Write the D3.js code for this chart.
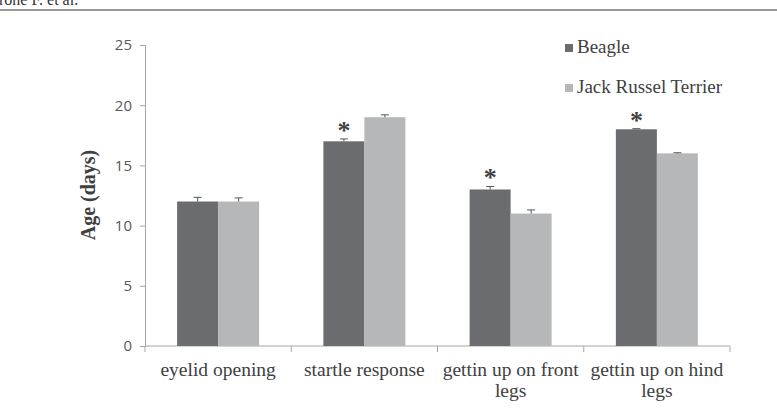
<!DOCTYPE html>
<html><head><meta charset="utf-8">
<script src="https://cdn.jsdelivr.net/npm/d3@7"></script>
<style>body{margin:0;background:#fff}svg{display:block}</style>
</head><body>
<script>
const categories = [["eyelid opening"], ["startle response"], ["gettin up on front", "legs"], ["gettin up on hind", "legs"]];
const seriesNames = ["Beagle", "Jack Russel Terrier"];
const beagle = [12, 17, 13, 18];
const jackRussel = [12, 19, 11, 16];
const beagleErr = [0.35, 0.2, 0.25, 0.05];
const jackErr = [0.3, 0.2, 0.3, 0.05];
const significant = [false, true, true, true];
const yTicks = [0, 5, 10, 15, 20, 25];
const colors = ["#6b6c70", "#b6b7b8"];

const W = 777, H = 412;
const svg = d3.select("body").append("svg").attr("width", W).attr("height", H);

// header fragment
svg.append("text").attr("x", -1).attr("y", 5).attr("font-family", "Liberation Serif").attr("font-size", 16).attr("fill", "#333").text("rone F. et al.");
svg.append("line").attr("x1", 0).attr("x2", W).attr("y1", 10).attr("y2", 10).attr("stroke", "#777").attr("stroke-width", 1.5);

const x0 = 145, x1 = 730, yTop = 45, yBot = 346;
const x = d3.scaleBand().domain(d3.range(categories.length)).range([x0, x1]).paddingInner(0).paddingOuter(0);
const y = d3.scaleLinear().domain([0, 25]).range([yBot, yTop]);
const barW = 41;

// y axis
const yAxis = d3.axisLeft(y).tickValues(yTicks).tickSize(5).tickPadding(8);
const gy = svg.append("g").attr("transform", `translate(${x0},0)`).call(yAxis);
gy.select(".domain").attr("stroke", "#a6a6a6");
gy.selectAll(".tick line").attr("stroke", "#a6a6a6");
gy.selectAll(".tick text").attr("font-family", "Open Sans, Liberation Sans, sans-serif").attr("font-size", 15).attr("fill", "#595959");

// x axis
const gx = svg.append("g").attr("transform", `translate(0,${yBot})`);
gx.append("line").attr("x1", x0).attr("x2", x1).attr("stroke", "#a6a6a6");
const tickXs = d3.range(categories.length + 1).map(i => i < categories.length ? x(i) : x(categories.length - 1) + x.bandwidth());
gx.selectAll("line.t").data(tickXs).join("line").attr("class", "t")
  .attr("x1", d => d).attr("x2", d => d).attr("y1", 0).attr("y2", 6).attr("stroke", "#a6a6a6");
const lab = gx.selectAll("text.c").data(categories).join("text").attr("class", "c")
  .attr("text-anchor", "middle").attr("font-family", "Liberation Serif").attr("font-size", 19.5).attr("fill", "#404040");
lab.each(function(d, i) {
  const t = d3.select(this);
  d.forEach((s, j) => t.append("tspan").attr("x", x(i) + x.bandwidth() / 2).attr("y", 30 + j * 21).text(s));
});

// bars
const series = [beagle, jackRussel];
const errs = [beagleErr, jackErr];
series.forEach((vals, s) => {
  const g = svg.append("g");
  g.selectAll("rect").data(vals).join("rect")
    .attr("x", (d, i) => x(i) + x.bandwidth() / 2 - barW + s * barW)
    .attr("width", barW)
    .attr("y", d => y(d)).attr("height", d => y(0) - y(d))
    .attr("fill", colors[s]);
  const eg = svg.append("g").attr("stroke", "#555").attr("stroke-width", 1);
  vals.forEach((v, i) => {
    const cx = x(i) + x.bandwidth() / 2 - barW / 2 + s * barW;
    const e = errs[s][i];
    eg.append("line").attr("x1", cx).attr("x2", cx).attr("y1", y(v)).attr("y2", y(v + e));
    eg.append("line").attr("x1", cx - 4).attr("x2", cx + 4).attr("y1", y(v + e)).attr("y2", y(v + e));
  });
});

// significance asterisks
svg.append("g").selectAll("text").data(beagle.map((v, i) => ({ v, i, e: beagleErr[i] })).filter(d => significant[d.i])).join("text")
  .attr("x", d => x(d.i) + x.bandwidth() / 2 - barW / 2)
  .attr("y", d => y(d.v + d.e))
  .attr("text-anchor", "middle").attr("font-family", "Liberation Serif").attr("font-weight", "bold").attr("font-size", 26).attr("fill", "#404040")
  .text("*");

// y title
svg.append("text").attr("transform", "translate(95,195) rotate(-90)").attr("text-anchor", "middle")
  .attr("font-family", "Liberation Serif").attr("font-weight", "bold").attr("font-size", 20).attr("fill", "#404040").text("Age (days)");

// legend
const lg = svg.append("g");
seriesNames.forEach((n, s) => {
  const yy = 53 + s * 40;
  lg.append("rect").attr("x", 565).attr("y", yy - 9).attr("width", 8).attr("height", 8).attr("fill", colors[s]);
  lg.append("text").attr("x", 577).attr("y", yy).attr("font-family", "Liberation Serif").attr("font-size", 19).attr("fill", "#404040").text(n);
});
</script>
</body></html>
